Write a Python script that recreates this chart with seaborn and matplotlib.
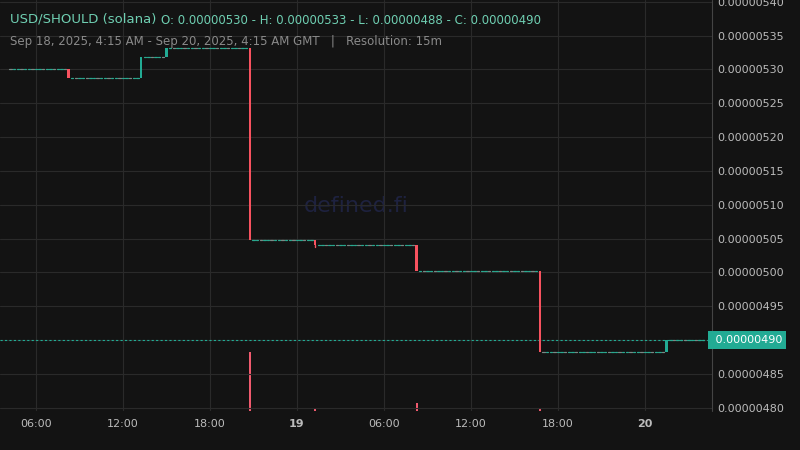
import numpy as np
import pandas as pd
import matplotlib
matplotlib.use("Agg")
import matplotlib.pyplot as plt
import seaborn as sns

# hours since Sep 18 00:00 GMT at which price changes, and new close levels
change_hours = [8.25, 13.25, 15.0, 20.75, 25.25, 32.25, 40.75, 49.5]
change_close = [5.287e-6, 5.318e-6, 5.331e-6, 5.048e-6, 5.040e-6, 5.002e-6, 4.882e-6, 4.900e-6]
change_low_extra = [0, 0, 0, 0, 0.003e-6, 0, 0, 0]
change_volume = [0.3, 0.3, 0.6, 100, 4, 14, 3, 0.5]
start_hour, end_hour, start_price = 4.25, 52.25, 5.300e-6
tick_hours = [6, 12, 18, 24, 30, 36, 42, 48]
tick_labels = ["06:00", "12:00", "18:00", "19", "06:00", "12:00", "18:00", "20"]
y_ticks = [4.80e-6 + 0.05e-6 * i for i in range(13)]

# build 15m candles
times = np.arange(start_hour, end_hour, 0.25)
rows = []
price = start_price
for t in times:
    o = price
    c, lo_x, v = price, 0, 0.15
    for ch, cc, le, cv in zip(change_hours, change_close, change_low_extra, change_volume):
        if abs(t - ch) < 1e-6:
            c, lo_x, v = cc, le, cv
    rows.append(dict(t=t, o=o, c=c, lo=min(o, c) - lo_x, v=v))
    price = c
df = pd.DataFrame(rows)

sns.set_style("dark")
bg = "#131313"
fig = plt.figure(figsize=(8, 4.5), dpi=100, facecolor=bg)
ax = fig.add_axes([0, 39/450, 712/800, 411/450])
ax.set_facecolor(bg)
axv = ax.twinx()
axv.set_zorder(0); ax.set_zorder(1); ax.patch.set_visible(False)

green, red = "#22ab94", "#f7525f"
w = 0.25 * 0.75
for i, r in df.iterrows():
    if r.c == r.o:
        fc = "#2aa88f" if i % 3 else "#7a8a86"
        ax.plot([r.t - w*0.45, r.t + w*0.45], [r.c, r.c], color=fc, lw=0.9, zorder=3)
        axv.bar(r.t, r.v, width=w*0.8, color=fc, lw=0, zorder=1)
    else:
        col = green if r.c > r.o else red
        ax.bar(r.t, abs(r.c - r.o), bottom=min(r.o, r.c), width=w, color=col, lw=0, zorder=3)
        if r.lo < min(r.o, r.c):
            ax.plot([r.t, r.t], [r.lo, min(r.o, r.c)], color=col, lw=1, zorder=3)
        axv.bar(r.t, r.v, width=w*0.7, color="#f05a6e" if col == red else green, lw=0, zorder=1)

ymin = 4.80e-6 - 30 / 6.083e9
ymax = 5.40e-6 + 16 / 6.083e9
axv.set_ylim(0, 100 * 411 / 59)
axv.set_yticks([])
for a in (ax, axv):
    for s in a.spines.values():
        s.set_visible(False)

ax.yaxis.tick_right()
ax.set_yticks(y_ticks)
ax.set_yticklabels(["" if abs(v - 4.90e-6) < 1e-12 else f"{v:.8f}" for v in y_ticks],
                   color="#bbbbbb", fontsize=8)
ax.set_xticks(tick_hours)
ax.set_xticklabels(tick_labels, color="#bbbbbb", fontsize=8)
for lbl in ax.get_xticklabels():
    if lbl.get_text() in ("19", "20"):
        lbl.set_fontweight("bold")
ax.tick_params(length=0, pad=6)
ax.tick_params(axis="y", pad=4)
ax.grid(True, color="#2a2a2a", lw=0.8)
ax.set_axisbelow(True)

# last price line and label
last = df.c.iloc[-1]
ax.axhline(last, color=green, lw=0.8, ls=(0, (2, 2)), zorder=2)
ax.text(1.0, last, f" {last:.8f}", transform=ax.get_yaxis_transform(), ha="left", va="center",
        fontsize=8, color="white", bbox=dict(boxstyle="square,pad=0.35", fc=green, ec="none"), zorder=5,
        clip_on=False)
ax.plot([1.0, 1.0], [ymin, ymax], transform=ax.get_yaxis_transform(), color="#444", lw=0.8, clip_on=False)

ax.text(0.5, 0.5, "defined.fi", transform=ax.transAxes, ha="center", va="center",
        fontsize=16, color="#1e2240", zorder=0)

ax.set_xlim(6 - 36/14.5, 6 + 676/14.5)
ax.set_autoscale_on(False)
ax.set_ylim(ymin, ymax)

fig.text(10/800, 1 - 19/450, "USD/SHOULD (solana)", color="#6fcfb2", fontsize=9.5, va="center")
fig.text(161/800, 1 - 20/450, "O: 0.00000530 - H: 0.00000533 - L: 0.00000488 - C: 0.00000490",
         color="#6fcfb2", fontsize=8.5, va="center")
fig.text(10/800, 1 - 41/450, "Sep 18, 2025, 4:15 AM - Sep 20, 2025, 4:15 AM GMT   |   Resolution: 15m",
         color="#8a8a8a", fontsize=8.5, va="center")

fig.savefig("out.png", dpi=100, facecolor=bg)
